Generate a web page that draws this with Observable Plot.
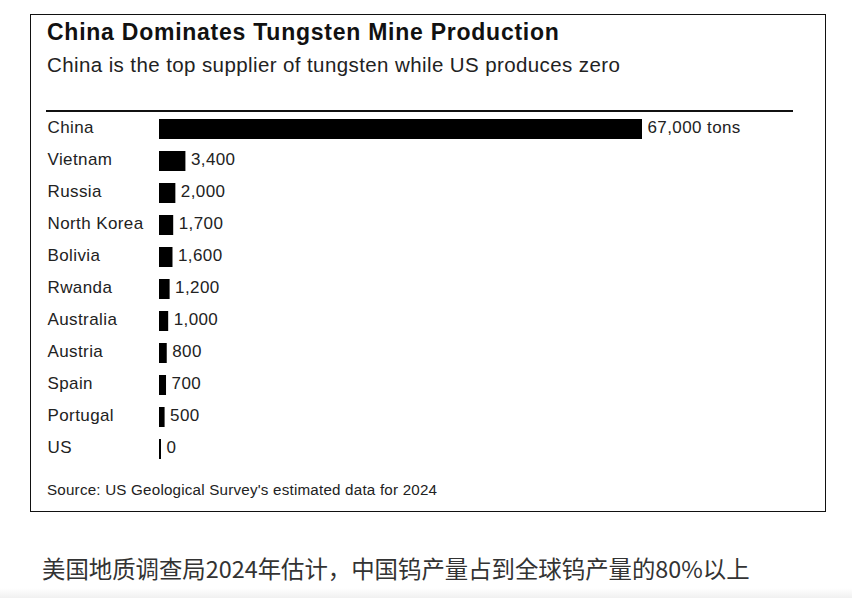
<!DOCTYPE html>
<html>
<head>
<meta charset="utf-8">
<script src="https://cdn.jsdelivr.net/npm/d3@7"></script>
<script src="https://cdn.jsdelivr.net/npm/@observablehq/plot@0.6"></script>
<style>
  html, body { margin: 0; padding: 0; background: #fff; }
  #page { position: relative; width: 852px; height: 598px; overflow: hidden; font-family: "Liberation Sans", Arial, sans-serif; }
  #box { position: absolute; left: 30px; top: 14px; width: 796px; height: 498px; box-sizing: border-box; border: 1.5px solid #111; }
  .t { position: absolute; line-height: 1; white-space: nowrap; }
  #title { left: 47px; top: 21.2px; font-size: 23px; letter-spacing: 0.75px; font-weight: bold; color: #111; }
  #subtitle { left: 47px; top: 54.6px; font-size: 20.5px; letter-spacing: 0.4px; color: #222; }
  #rule { position: absolute; left: 46px; top: 109.7px; width: 747px; height: 2px; background: #111; }
  #source { left: 47px; top: 482.1px; font-size: 15.2px; letter-spacing: 0.2px; color: #222; }
  #caption { left: 42px; top: 557px; font-family: "Noto Sans CJK SC", sans-serif; font-size: 23.4px; color: #333; }
  #shade { position: absolute; left: 0; top: 588px; width: 852px; height: 10px; background: linear-gradient(#fff, #f0f0f0); }
  #chart { position: absolute; left: 0; top: 100px; }
  #chart text { letter-spacing: 0.4px; }
</style>
</head>
<body>
<div id="page">
  <div id="box"></div>
  <div class="t" id="title">China Dominates Tungsten Mine Production</div>
  <div class="t" id="subtitle">China is the top supplier of tungsten while US produces zero</div>
  <div id="rule"></div>
  <div id="chart"></div>
  <div class="t" id="source">Source: US Geological Survey's estimated data for 2024</div>
  <div class="t" id="caption">美国地质调查局2024年估计，中国钨产量占到全球钨产量的80%以上</div>
  <div id="shade"></div>
</div>
<script>
const countries = ["China", "Vietnam", "Russia", "North Korea", "Bolivia", "Rwanda", "Australia", "Austria", "Spain", "Portugal", "US"];
const production = [67000, 3400, 2000, 1700, 1600, 1200, 1000, 800, 700, 500, 0];
const valueLabels = ["67,000 tons", "3,400", "2,000", "1,700", "1,600", "1,200", "1,000", "800", "700", "500", "0"];

const data = countries.map((c, i) => ({country: c, value: production[i], label: valueLabels[i]}));

const bandStart = 12.2, step = 32.17;
const chart = Plot.plot({
  width: 852,
  height: 380,
  margin: 0,
  x: {domain: [0, 67000], range: [160, 641], axis: null},
  y: {domain: countries, range: [bandStart, bandStart + step * countries.length], paddingInner: 0.36, paddingOuter: 0.18, axis: null},
  style: {fontFamily: "'Liberation Sans', Arial, sans-serif", background: "transparent"},
  marks: [
    Plot.barX(data, {x1: 0, x2: "value", y: "country", fill: "#000", insetLeft: -1, insetRight: -1}),
    Plot.text(data, {x: "value", y: "country", text: "label", textAnchor: "start", dx: 6, dy: -1.5, fontSize: 17, fill: "#222"}),
    Plot.text(data, {x: 0, y: "country", text: "country", textAnchor: "start", dx: -113, dy: -2, fontSize: 17, fill: "#222"})
  ]
});
document.getElementById("chart").appendChild(chart);
</script>
</body>
</html>
